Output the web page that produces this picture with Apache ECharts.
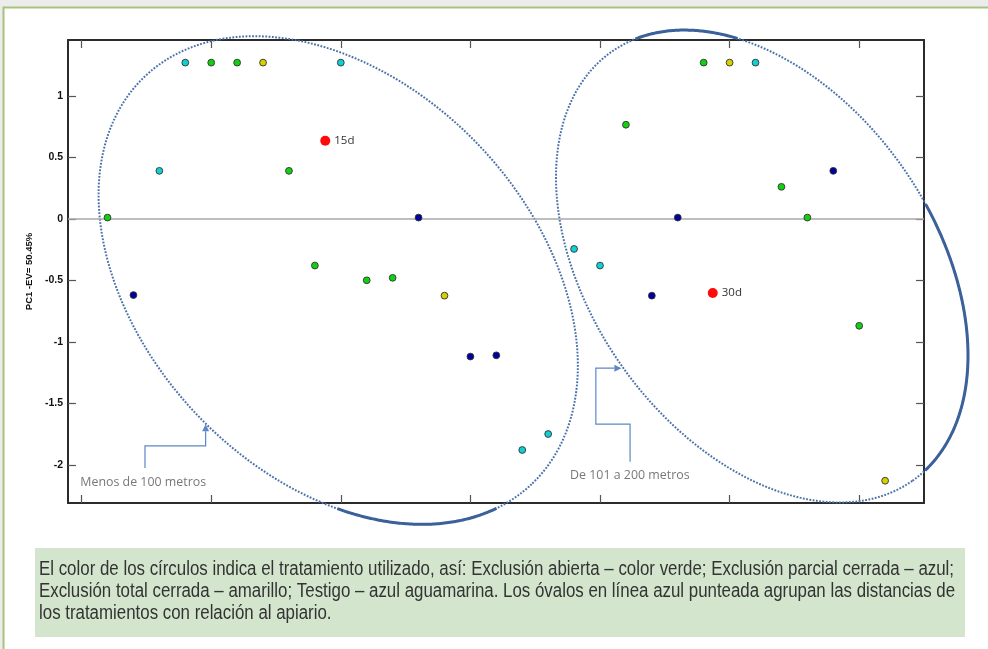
<!DOCTYPE html>
<html>
<head>
<meta charset="utf-8">
<script src="https://cdn.jsdelivr.net/npm/echarts@6/dist/echarts.min.js"></script>
<style>
  html, body { margin: 0; padding: 0; background: #ececec; }
  #chart { width: 988px; height: 649px; }
</style>
</head>
<body>
<div id="chart"></div>
<script>
// ---- Data ----
const X_TICKS = [0, 1, 2, 3, 4, 5, 6];
const Y_TICKS = [-2, -1.5, -1, -0.5, 0, 0.5, 1];
const Y_NAME = 'PC1 -EV= 50.45%';

// Exclusión abierta – verde
const verde = [[0.2, 0.01], [1.0, 1.27], [1.2, 1.27], [1.6, 0.39], [1.8, -0.38], [2.2, -0.5], [2.4, -0.48],
               [4.2, 0.765], [4.8, 1.27], [5.4, 0.26], [5.6, 0.01], [6.0, -0.87]];
// Exclusión parcial cerrada – azul
const azul = [[0.4, -0.62], [2.6, 0.01], [3.0, -1.12], [3.2, -1.11], [4.4, -0.625], [4.6, 0.01], [5.8, 0.39]];
// Exclusión total cerrada – amarillo
const amarillo = [[1.4, 1.27], [2.8, -0.625], [5.0, 1.27], [6.2, -2.13]];
// Testigo – azul aguamarina
const aguamarina = [[0.6, 0.39], [0.8, 1.27], [2.0, 1.27], [3.4, -1.88], [3.6, -1.75], [3.8, -0.245], [4.0, -0.38], [5.2, 1.27]];
// Centroides
const centroides = [[1.88, 0.635, '15d'], [4.87, -0.603, '30d']];

// Annotations (anchored in data units)
const OVALOS = [
  { centro: [1.98, -0.50], a: 281, b: 195, giro: 46.5, margen: 5 },
  { centro: [5.25, -0.386], a: 262, b: 172, giro: 55, margen: 1 }
];
const FLECHAS = [
  [[0.489, -2.027], [0.489, -1.846], [0.957, -1.846], [0.957, -1.67]],
  [[4.232, -1.976], [4.232, -1.669], [3.968, -1.669], [3.968, -1.2145], [4.165, -1.2145]]
];
const ROTULOS = [[-0.01, -2.145, 'Menos de 100 metros'], [3.769, -2.089, 'De 101 a 200 metros']];

const CAPTION = [
  'El color de los círculos indica el tratamiento utilizado, así: Exclusión abierta – color verde; Exclusión parcial cerrada – azul;',
  'Exclusión total cerrada – amarillo; Testigo – azul aguamarina. Los óvalos en línea azul punteada agrupan las distancias de',
  'los tratamientos con relación al apiario.'
];

// ---- Chart ----
const chart = echarts.init(document.getElementById('chart'), null, { renderer: 'canvas' });

function dotSeries(name, data, color) {
  return {
    name, type: 'scatter', data, symbol: 'circle', symbolSize: 6.8, z: 5,
    itemStyle: { color, opacity: 1, borderColor: '#333333', borderWidth: 0.9 }
  };
}

const AX_COLOR = '#2b2b2b';
const xBase = {
  type: 'value', min: -0.105, max: 6.5,
  axisLine: { show: true, onZero: false, lineStyle: { color: AX_COLOR, width: 2 } },
  axisTick: { show: true, inside: true, length: 8, customValues: X_TICKS, lineStyle: { color: '#555', width: 1.2 } },
  axisLabel: { show: false },
  splitLine: { show: false }
};
const yBase = {
  type: 'value', min: -2.311, max: 1.454,
  axisLine: { show: true, onZero: false, lineStyle: { color: AX_COLOR, width: 2 } },
  axisTick: { show: true, inside: true, length: 8, customValues: Y_TICKS, lineStyle: { color: '#555', width: 1.2 } },
  splitLine: { show: false }
};

const CAP_FONT = 19.5;
const option = {
  backgroundColor: '#ececec',
  animation: false,
  grid: { left: 68, right: 64, top: 40, bottom: 146, containLabel: false },
  xAxis: [
    Object.assign({}, xBase, { position: 'bottom' }),
    Object.assign({}, xBase, { position: 'top' })
  ],
  yAxis: [
    Object.assign({}, yBase, {
      position: 'left',
      name: Y_NAME, nameLocation: 'middle', nameGap: 26, nameRotate: 90,
      nameTextStyle: { fontFamily: 'Liberation Sans', fontWeight: 'bold', fontSize: 9.5, color: '#111' },
      axisLabel: { show: true, customValues: Y_TICKS, margin: 5, fontFamily: 'Liberation Sans', fontWeight: 'bold',
                   fontSize: 10.5, color: '#111', formatter: v => String(v) }
    }),
    Object.assign({}, yBase, { position: 'right', axisLabel: { show: false } })
  ],
  graphic: [
    { type: 'rect', z: -10, shape: { x: 3.5, y: 7.5, width: 1000, height: 700 },
      style: { fill: '#ffffff', stroke: '#a6c27c', lineWidth: 2 } },
    { type: 'rect', z: -5, shape: { x: 35, y: 548, width: 930, height: 89 }, style: { fill: '#d3e5cd' } }
  ].concat(CAPTION.map((t, i) => ({
    type: 'text', z: 10, x: 39, y: 570 + i * 22, scaleX: 0.865,
    style: { text: t, fill: '#333333', textVerticalAlign: 'middle',
             font: CAP_FONT + 'px "Liberation Sans", sans-serif' }
  }))),
  series: [
    {
      type: 'custom', name: 'ovalos', coordinateSystem: 'cartesian2d', clip: false, z: 3, silent: true,
      data: OVALOS.map(o => o.centro),
      renderItem: function (params, api) {
        const o = OVALOS[params.dataIndex];
        const c = api.coord(o.centro);
        const cs = params.coordSys;
        const phi = o.giro * Math.PI / 180;
        const pts = [];
        for (let i = 0; i <= 720; i++) {
          const t = i * Math.PI / 360;
          const u = o.a * Math.cos(t), v = o.b * Math.sin(t);
          pts.push([c[0] + u * Math.cos(phi) - v * Math.sin(phi), c[1] + u * Math.sin(phi) + v * Math.cos(phi)]);
        }
        const children = [{
          type: 'polyline', shape: { points: pts },
          style: { fill: null, stroke: '#4a72aa', lineWidth: 2, lineDash: [1.8, 1.5] }
        }];
        let run = [];
        const flush = () => {
          if (run.length > 1) children.push({ type: 'polyline', shape: { points: run },
            style: { fill: null, stroke: '#3b619a', lineWidth: 3 } });
          run = [];
        };
        const m = o.margen;
        pts.forEach(p => {
          const out = p[0] < cs.x - m || p[0] > cs.x + cs.width + m || p[1] < cs.y - m || p[1] > cs.y + cs.height + m;
          if (out) run.push(p); else flush();
        });
        flush();
        return { type: 'group', children };
      }
    },
    {
      type: 'custom', name: 'flechas', coordinateSystem: 'cartesian2d', clip: false, z: 4, silent: true,
      data: FLECHAS.map(f => f[f.length - 1]),
      renderItem: function (params, api) {
        const pts = FLECHAS[params.dataIndex].map(p => api.coord(p));
        const n = pts.length;
        const a = pts[n - 2], b = pts[n - 1];
        const dx = b[0] - a[0], dy = b[1] - a[1];
        const L = Math.sqrt(dx * dx + dy * dy);
        const ux = dx / L, uy = dy / L;
        const len = 7, w = 3.5;
        const base = [b[0] - ux * len, b[1] - uy * len];
        const head = [b, [base[0] - uy * w, base[1] + ux * w], [base[0] + uy * w, base[1] - ux * w]];
        const line = pts.slice(0, n - 1).concat([base]);
        return { type: 'group', children: [
          { type: 'polyline', shape: { points: line }, style: { fill: null, stroke: '#5a88c6', lineWidth: 1.2 } },
          { type: 'polygon', shape: { points: head }, style: { fill: '#5a88c6' } }
        ] };
      }
    },
    {
      type: 'scatter', name: 'rotulos', data: ROTULOS, symbolSize: 0, z: 4, silent: true,
      label: { show: true, position: 'right', distance: 0, formatter: p => p.data[2],
               fontFamily: 'Open Sans', fontSize: 12.4, color: '#555555' }
    },
    {
      type: 'scatter', name: 'cero', data: [], z: 2,
      markLine: { silent: true, symbol: 'none', label: { show: false },
        lineStyle: { color: '#a8a8a8', width: 1.5, type: 'solid' }, data: [{ yAxis: 0 }] }
    },
    dotSeries('Exclusión abierta', verde, '#10d010'),
    dotSeries('Exclusión parcial cerrada', azul, '#0000a0'),
    dotSeries('Exclusión total cerrada', amarillo, '#d6d000'),
    dotSeries('Testigo', aguamarina, '#10d0d4'),
    {
      type: 'scatter', name: 'centroides', data: centroides, symbolSize: 10, z: 6,
      itemStyle: { color: '#ff0a0a', opacity: 1 },
      label: { show: true, position: 'right', distance: 4, formatter: p => p.data[2],
               fontFamily: 'Open Sans', fontSize: 11.5, color: '#333333' }
    }
  ]
};
chart.setOption(option);
</script>
</body>
</html>
